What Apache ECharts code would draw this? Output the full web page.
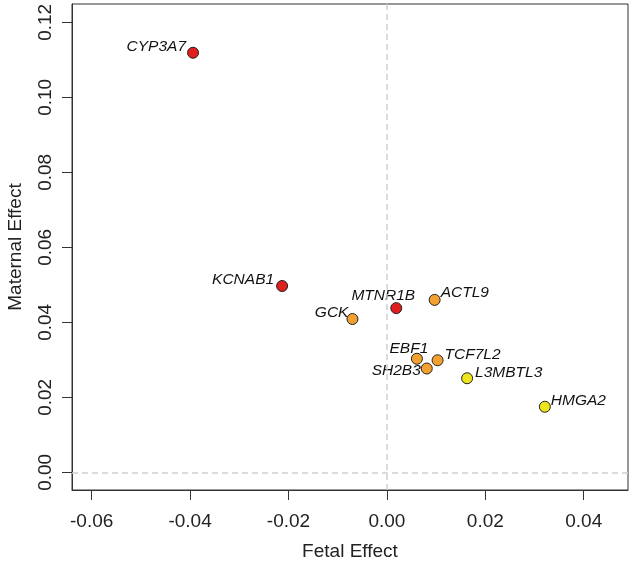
<!DOCTYPE html>
<html>
<head>
<meta charset="utf-8">
<script src="https://cdn.jsdelivr.net/npm/echarts@6/dist/echarts.min.js"></script>
<style>
  html, body { margin: 0; padding: 0; background: #fff; }
  #main { width: 633px; height: 562px; }
</style>
</head>
<body>
<div id="main"></div>
<script>
// gene names and effects
var genes    = ['CYP3A7', 'KCNAB1', 'GCK', 'MTNR1B', 'ACTL9', 'EBF1', 'TCF7L2', 'SH2B3', 'L3MBTL3', 'HMGA2'];
var fetal    = [-0.0394, -0.0213, -0.0070, 0.0019, 0.0097, 0.0061, 0.0103, 0.0081, 0.0163, 0.0321];
var maternal = [0.1119, 0.0497, 0.0409, 0.0438, 0.0460, 0.0303, 0.0299, 0.0277, 0.0251, 0.0175];
var group    = ['red', 'red', 'orange', 'red', 'orange', 'orange', 'orange', 'orange', 'yellow', 'yellow'];
var xTicks   = [-0.06, -0.04, -0.02, 0.00, 0.02, 0.04];
var yTicks   = [0.00, 0.02, 0.04, 0.06, 0.08, 0.10, 0.12];

var colors = { red: '#e0201e', orange: '#f2a130', yellow: '#ece41c' };

// where each gene name sits next to its dot
var labelPlace = {
  CYP3A7:  { align: 'right',  offset: [-7, -6] },
  KCNAB1:  { align: 'right',  offset: [-8, -6] },
  GCK:     { align: 'right',  offset: [-4, -6] },
  MTNR1B:  { align: 'center', offset: [-13, -12] },
  ACTL9:   { align: 'left',   offset: [6, -7] },
  EBF1:    { align: 'center', offset: [-8, -10] },
  TCF7L2:  { align: 'left',   offset: [7, -6] },
  SH2B3:   { align: 'right',  offset: [-6, 2] },
  L3MBTL3: { align: 'left',   offset: [8, -6] },
  HMGA2:   { align: 'left',   offset: [6, -6] }
};

var FONT = '"Liberation Sans", Arial, sans-serif';

var points = [];
for (var i = 0; i < genes.length; i++) {
  var p = labelPlace[genes[i]];
  points.push({
    name: genes[i],
    value: [fetal[i], maternal[i]],
    itemStyle: { color: colors[group[i]] },
    label: { align: p.align, offset: p.offset }
  });
}

var chart = echarts.init(document.getElementById('main'));
chart.setOption({
  animation: false,
  grid: {
    left: 72, right: 5, top: 4, bottom: 72,
    outerBoundsMode: 'none',
    show: true, borderColor: '#333', borderWidth: 1, backgroundColor: 'transparent'
  },
  xAxis: {
    type: 'value',
    min: -0.064, max: 0.049,
    name: 'Fetal Effect',
    nameLocation: 'middle',
    nameGap: 52,
    nameTextStyle: { fontFamily: FONT, fontSize: 19, color: '#222' },
    axisLine: { show: true, onZero: false, lineStyle: { color: '#333', width: 1 } },
    splitLine: { show: false },
    axisTick: { show: true, length: 10, lineStyle: { color: '#333' }, customValues: xTicks },
    axisLabel: {
      customValues: xTicks, margin: 22,
      fontFamily: FONT, fontSize: 19, color: '#222',
      formatter: function (v) { return v.toFixed(2); }
    }
  },
  yAxis: {
    type: 'value',
    min: -0.0047, max: 0.1249,
    name: 'Maternal Effect',
    nameLocation: 'middle',
    nameGap: 47,
    nameTextStyle: { fontFamily: FONT, fontSize: 19, color: '#222' },
    axisLine: { show: true, onZero: false, lineStyle: { color: '#333', width: 1 } },
    splitLine: { show: false },
    axisTick: { show: true, length: 10, lineStyle: { color: '#333' }, customValues: yTicks },
    axisLabel: {
      customValues: yTicks, margin: 17, rotate: 90,
      fontFamily: FONT, fontSize: 19, color: '#222',
      formatter: function (v) { return v.toFixed(2); }
    }
  },
  series: [{
    type: 'scatter',
    symbol: 'circle',
    symbolSize: 11,
    itemStyle: { borderColor: '#222', borderWidth: 1, opacity: 1 },
    label: {
      show: true,
      position: 'inside',
      verticalAlign: 'middle',
      formatter: '{b}',
      fontFamily: FONT, fontSize: 15.5, fontStyle: 'italic', color: '#111'
    },
    markLine: {
      silent: true,
      symbol: 'none',
      label: { show: false },
      lineStyle: { color: '#cfcfcf', type: [6, 4], width: 1.5 },
      data: [{ xAxis: 0 }, { yAxis: 0 }]
    },
    data: points,
    z: 3
  }]
});
</script>
</body>
</html>
